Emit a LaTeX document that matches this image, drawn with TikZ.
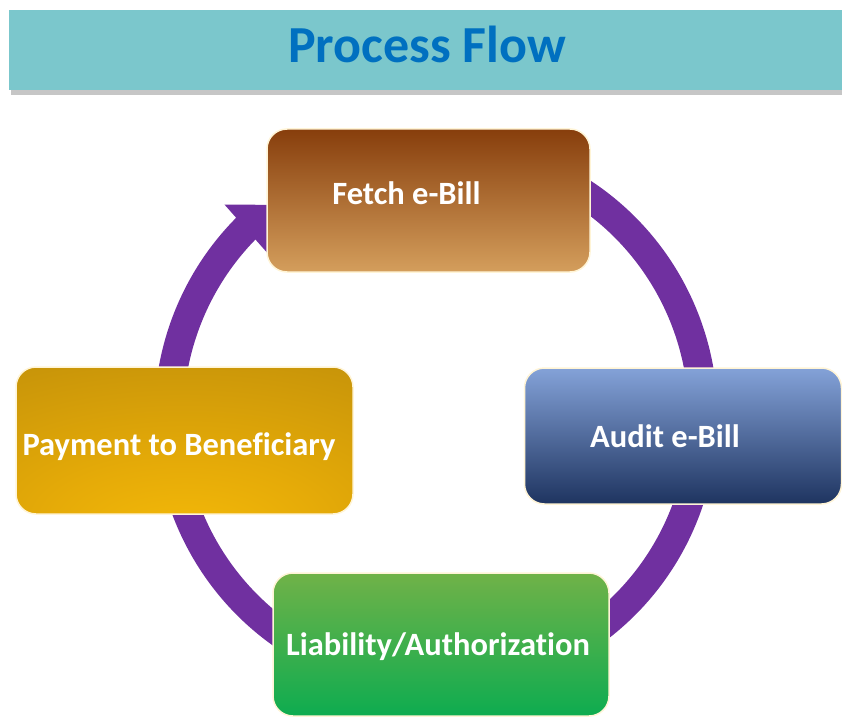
\documentclass[tikz,border=0pt]{standalone}
\usepackage{fontspec}
\setmainfont{Carlito}[Ligatures=NoCommon]
\usetikzlibrary{arrows.meta,bending,shadows}
\definecolor{titlebg}{RGB}{123,199,204}
\definecolor{titleblue}{RGB}{0,112,192}
\definecolor{arcpurple}{RGB}{112,48,160}
\definecolor{fetchA}{RGB}{135,62,12}
\definecolor{fetchB}{RGB}{200,88,16}
\definecolor{fetchC}{RGB}{212,158,92}
\definecolor{auditA}{RGB}{132,162,216}
\definecolor{auditB}{RGB}{78,106,158}
\definecolor{auditC}{RGB}{30,52,96}
\definecolor{liabA}{RGB}{112,178,72}
\definecolor{liabB}{RGB}{52,176,76}
\definecolor{liabC}{RGB}{14,172,80}
\definecolor{boxedge}{RGB}{255,244,214}
\pgfdeclareradialshading{goldrad}{\pgfpoint{0bp}{-35bp}}{rgb(0bp)=(0.96,0.73,0.03);rgb(20bp)=(0.90,0.67,0.03);rgb(60bp)=(0.74,0.55,0.04);rgb(100bp)=(0.62,0.46,0.05)}
\begin{document}
\begin{tikzpicture}[x=1pt,y=1pt,
  stepbox/.style={rounded corners=20pt, draw=boxedge, line width=1.5pt, inner sep=0pt},
  lbl/.style={text=white, font=\bfseries\fontsize{32.5}{38}\selectfont, anchor=base, inner sep=0pt}]
\useasboundingbox (0,0) rectangle (842,716);
\node[fill=titlebg, minimum width=833pt, minimum height=80pt, inner sep=0pt,
  drop shadow={shadow xshift=2pt,shadow yshift=-5pt,opacity=.45}] (bar) at (425.5,666) {};
\node[text=titleblue, font=\bfseries\fontsize{52}{62}\selectfont, anchor=base, inner sep=0pt] (title) at (427,653) {Process Flow};
\coordinate (ctr) at (436,300);
\draw[arcpurple, line width=29pt, -{Triangle[width=62pt,length=36pt]}]
  ([shift={(70:267pt)}]ctr) arc[start angle=70, end angle=-232.3, radius=267pt];
\node[stepbox, top color=fetchA, middle color=fetchB, bottom color=fetchC,
  minimum width=323pt, minimum height=143pt] (fetch) at (428.5,515.5) {};
\node[stepbox, top color=auditA, middle color=auditB, bottom color=auditC,
  minimum width=317pt, minimum height=136pt] (audit) at (683,280) {};
\node[stepbox, top color=liabA, middle color=liabB, bottom color=liabC,
  minimum width=336pt, minimum height=143pt] (liab) at (441,71.5) {};
\node[stepbox, shading=goldrad,
  minimum width=337pt, minimum height=147pt] (pay) at (184.5,275.5) {};
\node[lbl] (fetchtxt) at (406.5,511) {Fetch e-Bill};
\node[lbl] (audittxt) at (665,269) {Audit e-Bill};
\node[lbl] (liabtxt) at (438,61) {Liability/Authorization};
\node[lbl] (paytxt) at (179,261) {Payment to Beneficiary};
\end{tikzpicture}
\end{document}
